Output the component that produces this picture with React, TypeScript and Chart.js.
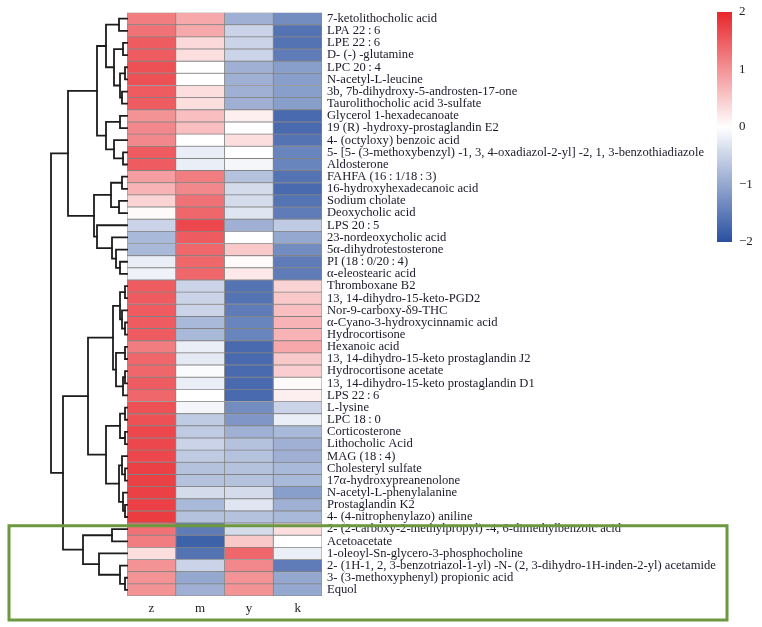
import { useEffect, useRef } from "react";
import { Chart, registerables } from "chart.js";

Chart.register(...registerables);

const T = "\u2009";

const rowLabels = [
  "7-ketolithocholic acid",
  `LPA 22${T}:${T}6`,
  `LPE 22${T}:${T}6`,
  "D- (-) -glutamine",
  `LPC 20${T}:${T}4`,
  "N-acetyl-L-leucine",
  "3b, 7b-dihydroxy-5-androsten-17-one",
  "Taurolithocholic acid 3-sulfate",
  "Glycerol 1-hexadecanoate",
  "19 (R) -hydroxy-prostaglandin E2",
  "4- (octyloxy) benzoic acid",
  "5- [5- (3-methoxybenzyl) -1, 3, 4-oxadiazol-2-yl] -2, 1, 3-benzothiadiazole",
  "Aldosterone",
  `FAHFA (16${T}:${T}1/18${T}:${T}3)`,
  "16-hydroxyhexadecanoic acid",
  "Sodium cholate",
  "Deoxycholic acid",
  `LPS 20${T}:${T}5`,
  "23-nordeoxycholic acid",
  "5α-dihydrotestosterone",
  `PI (18${T}:${T}0/20${T}:${T}4)`,
  "α-eleostearic acid",
  "Thromboxane B2",
  "13, 14-dihydro-15-keto-PGD2",
  "Nor-9-carboxy-δ9-THC",
  "α-Cyano-3-hydroxycinnamic acid",
  "Hydrocortisone",
  "Hexanoic acid",
  "13, 14-dihydro-15-keto prostaglandin J2",
  "Hydrocortisone acetate",
  "13, 14-dihydro-15-keto prostaglandin D1",
  `LPS 22${T}:${T}6`,
  "L-lysine",
  `LPC 18${T}:${T}0`,
  "Corticosterone",
  "Lithocholic Acid",
  `MAG (18${T}:${T}4)`,
  "Cholesteryl sulfate",
  "17α-hydroxypreanenolone",
  "N-acetyl-L-phenylalanine",
  "Prostaglandin K2",
  "4- (4-nitrophenylazo) aniline",
  "2- (2-carboxy-2-methylpropyl) -4, 6-dimethylbenzoic acid",
  "Acetoacetate",
  "1-oleoyl-Sn-glycero-3-phosphocholine",
  "2- (1H-1, 2, 3-benzotriazol-1-yl) -N- (2, 3-dihydro-1H-inden-2-yl) acetamide",
  "3- (3-methoxyphenyl) propionic acid",
  "Equol",
];

const colLabels = ["z", "m", "y", "k"];

const zValues = [
  1.2, 1.3, 1.5, 1.5, 1.6, 1.6, 1.5, 1.5, 1.0, 1.1, 1.1, 1.5,
  1.5, 0.9, 0.7, 0.4, 0.05, -0.5, -0.8, -0.8, -0.2, -0.15,
  1.5, 1.5, 1.5, 1.5, 1.5, 1.2, 1.4, 1.4, 1.5, 1.4,
  1.6, 1.6, 1.7, 1.7, 1.7, 1.75, 1.75, 1.75, 1.75, 1.8,
  1.3, 1.2, 0.3, 1.0, 1.0, 1.0,
];
const mValues = [
  0.8, 0.8, 0.35, 0.3, 0.0, 0.0, 0.3, 0.3, 0.6, 0.6, 0.0, -0.2,
  -0.2, 1.2, 1.1, 1.3, 1.4, 1.7, 1.5, 1.4, 1.4, 1.4,
  -0.5, -0.5, -0.5, -0.8, -0.8, -0.2, -0.25, -0.05, -0.2, 0.0,
  -0.1, -0.6, -0.6, -0.5, -0.6, -0.7, -0.7, -0.4, -0.8, -0.7,
  -1.5, -1.8, -1.6, -0.5, -1.0, -0.9,
];
const yValues = [
  -0.9, -0.5, -0.5, -0.5, -0.9, -0.9, -0.9, -0.9, 0.15, 0.0, 0.3, 0.0,
  -0.1, -0.7, -0.4, -0.4, -0.3, -0.9, 0.0, 0.5, 0.05, 0.2,
  -1.6, -1.6, -1.5, -1.4, -1.4, -1.7, -1.7, -1.7, -1.7, -1.7,
  -1.3, -1.2, -0.9, -0.7, -0.7, -0.7, -0.7, -0.4, -0.3, -0.7,
  -0.4, 0.5, 1.4, 1.1, 1.0, 1.0,
];
const kValues = [
  -1.3, -1.6, -1.6, -1.5, -1.1, -1.1, -1.1, -1.1, -1.7, -1.7, -1.6, -1.4,
  -1.4, -1.6, -1.7, -1.6, -1.5, -0.6, -1.0, -1.3, -1.5, -1.5,
  0.4, 0.5, 0.6, 0.7, 0.7, 0.8, 0.5, 0.45, 0.05, 0.15,
  -0.5, -0.2, -0.8, -0.9, -0.9, -0.8, -0.8, -1.1, -0.9, -0.8,
  0.3, 0.0, -0.2, -1.5, -1.0, -1.0,
];

const colorbarTicks = [2, 1, 0, -1, -2];
const highlightFirstRow = 42;

// Dendrogram: leaves are row indices; merges are [left, right, distance]
type DNode = number | [DNode, DNode, number];
const clusterA1: DNode = [
  [[0, 1, 8], [[2, 3, 4], [[4, 5, 2], [6, 7, 5], 7], 13], 21],
  [[8, 9, 7], [10, [11, 12, 4], 13], 21],
  30,
];
const clusterA2: DNode = [
  [[13, 14, 5], [15, 16, 8], 16],
  [17, [18, [19, [20, 21, 7], 11], 15], 30],
  33,
];
const clusterB1: DNode = [
  [[[22, 23, 2], [24, [25, 26, 2], 5], 7], [[27, 28, 2], [[29, 30, 2], 31, 4], 11], 14],
  [[[32, 33, 2], [34, 35, 2], 7], [[36, [37, 38, 2], 5], [39, [40, 41, 2], 4], 8], 21],
  39,
];
const clusterB2: DNode = [[42, 43, 15], [44, [45, [46, 47, 2], 7], 28], 44];
const dendrogram: DNode = [[clusterA1, clusterA2, 59], [clusterB1, clusterB2, 64], 76];

const RED = [232, 38, 44];
const BLUE = [41, 80, 160];
function colorFor(v: number): string {
  const t = Math.max(-1, Math.min(1, v / 2));
  const end = t >= 0 ? RED : BLUE;
  const a = Math.abs(t);
  const c = end.map((e) => Math.round(255 + (e - 255) * a));
  return `rgb(${c[0]},${c[1]},${c[2]})`;
}

const SERIF = "'Liberation Serif', 'Times New Roman', 'Noto Serif', serif";

const dendroPlugin = {
  id: "dendro",
  afterDraw(chart: any) {
    const { ctx, chartArea, scales } = chart;
    const yScale = scales.y;
    const left = chartArea.left;
    const unit = (left - 51) / 76;
    ctx.save();
    ctx.strokeStyle = "#1c1c1c";
    ctx.lineWidth = 1.8;
    ctx.lineCap = "square";
    const walk = (n: DNode): { y: number; x: number } => {
      if (typeof n === "number") return { y: yScale.getPixelForValue(n), x: left };
      const a = walk(n[0]);
      const b = walk(n[1]);
      const x = left - n[2] * unit;
      ctx.beginPath();
      ctx.moveTo(a.x, a.y);
      ctx.lineTo(x, a.y);
      ctx.lineTo(x, b.y);
      ctx.lineTo(b.x, b.y);
      ctx.stroke();
      return { y: (a.y + b.y) / 2, x };
    };
    walk(dendrogram);
    ctx.restore();
  },
};

const colorbarPlugin = {
  id: "colorbar",
  afterDraw(chart: any) {
    const { ctx } = chart;
    const x = 717, top = 12, w = 15, h = 230;
    ctx.save();
    const g = ctx.createLinearGradient(0, top, 0, top + h);
    const maxV = colorbarTicks[0];
    const minV = colorbarTicks[colorbarTicks.length - 1];
    for (let i = 0; i <= 20; i++) {
      const v = maxV - (i / 20) * (maxV - minV);
      g.addColorStop(i / 20, colorFor(v));
    }
    ctx.fillStyle = g;
    ctx.fillRect(x, top, w, h);
    ctx.fillStyle = "#222";
    ctx.font = `13px ${SERIF}`;
    ctx.textAlign = "left";
    ctx.textBaseline = "middle";
    colorbarTicks.forEach((t) => {
      const yy = top + ((maxV - t) / (maxV - minV)) * h;
      ctx.fillText(t < 0 ? `−${Math.abs(t)}` : String(t), x + 22, yy);
    });
    ctx.restore();
  },
};

const highlightPlugin = {
  id: "highlight",
  afterDraw(chart: any) {
    const { ctx, scales } = chart;
    const yScale = scales.y;
    const rowH = yScale.getPixelForValue(1) - yScale.getPixelForValue(0);
    const top = yScale.getPixelForValue(highlightFirstRow) - rowH * 0.28;
    ctx.save();
    ctx.strokeStyle = "rgb(108,152,64)";
    ctx.lineWidth = 3;
    ctx.strokeRect(9, top, 718, 620 - top);
    ctx.restore();
  },
};

export default function App() {
  const ref = useRef<HTMLCanvasElement | null>(null);
  useEffect(() => {
    document.body.style.margin = "0";
    const canvas = ref.current;
    if (!canvas) return;
    const columns = [zValues, mValues, yValues, kValues];
    const chart = new Chart(canvas, {
      type: "bar",
      data: {
        labels: rowLabels,
        datasets: colLabels.map((c, ci) => ({
          label: c,
          data: rowLabels.map(() => [ci, ci + 1]) as any,
          backgroundColor: columns[ci].map(colorFor),
          borderColor: "rgba(125,125,125,0.9)",
          borderWidth: 0.8,
          borderSkipped: false,
          barPercentage: 1,
          categoryPercentage: 1,
          grouped: false,
        })),
      },
      options: {
        responsive: false,
        animation: false,
        indexAxis: "y",
        layout: { padding: { left: 127, top: 11, right: 0, bottom: 0 } },
        plugins: { legend: { display: false }, tooltip: { enabled: false } },
        scales: {
          x: {
            type: "linear",
            min: 0,
            max: 4,
            position: "bottom",
            grid: { display: false, drawTicks: false },
            border: { display: false },
            afterBuildTicks: (s: any) => {
              s.ticks = colLabels.map((_, i) => ({ value: i + 0.5 }));
            },
            ticks: {
              autoSkip: false,
              maxRotation: 0,
              padding: 5,
              color: "#222",
              font: { family: SERIF, size: 13 },
              callback: (_v: any, i: number) => colLabels[i],
            },
            afterFit: (s: any) => {
              s.height = 31;
            },
          },
          y: {
            type: "category",
            position: "right",
            grid: { display: false, drawTicks: false },
            border: { display: false },
            ticks: {
              autoSkip: false,
              padding: 5,
              color: "#1a1a2a",
              font: { family: SERIF, size: 12.6 },
            },
            afterFit: (s: any) => {
              s.width = 440;
            },
          },
        },
      } as any,
      plugins: [dendroPlugin, colorbarPlugin, highlightPlugin],
    });
    return () => chart.destroy();
  }, []);
  return (
    <div style={{ width: 762, height: 627, background: "#fff" }}>
      <canvas ref={ref} width={762} height={627} style={{ display: "block" }} />
    </div>
  );
}
